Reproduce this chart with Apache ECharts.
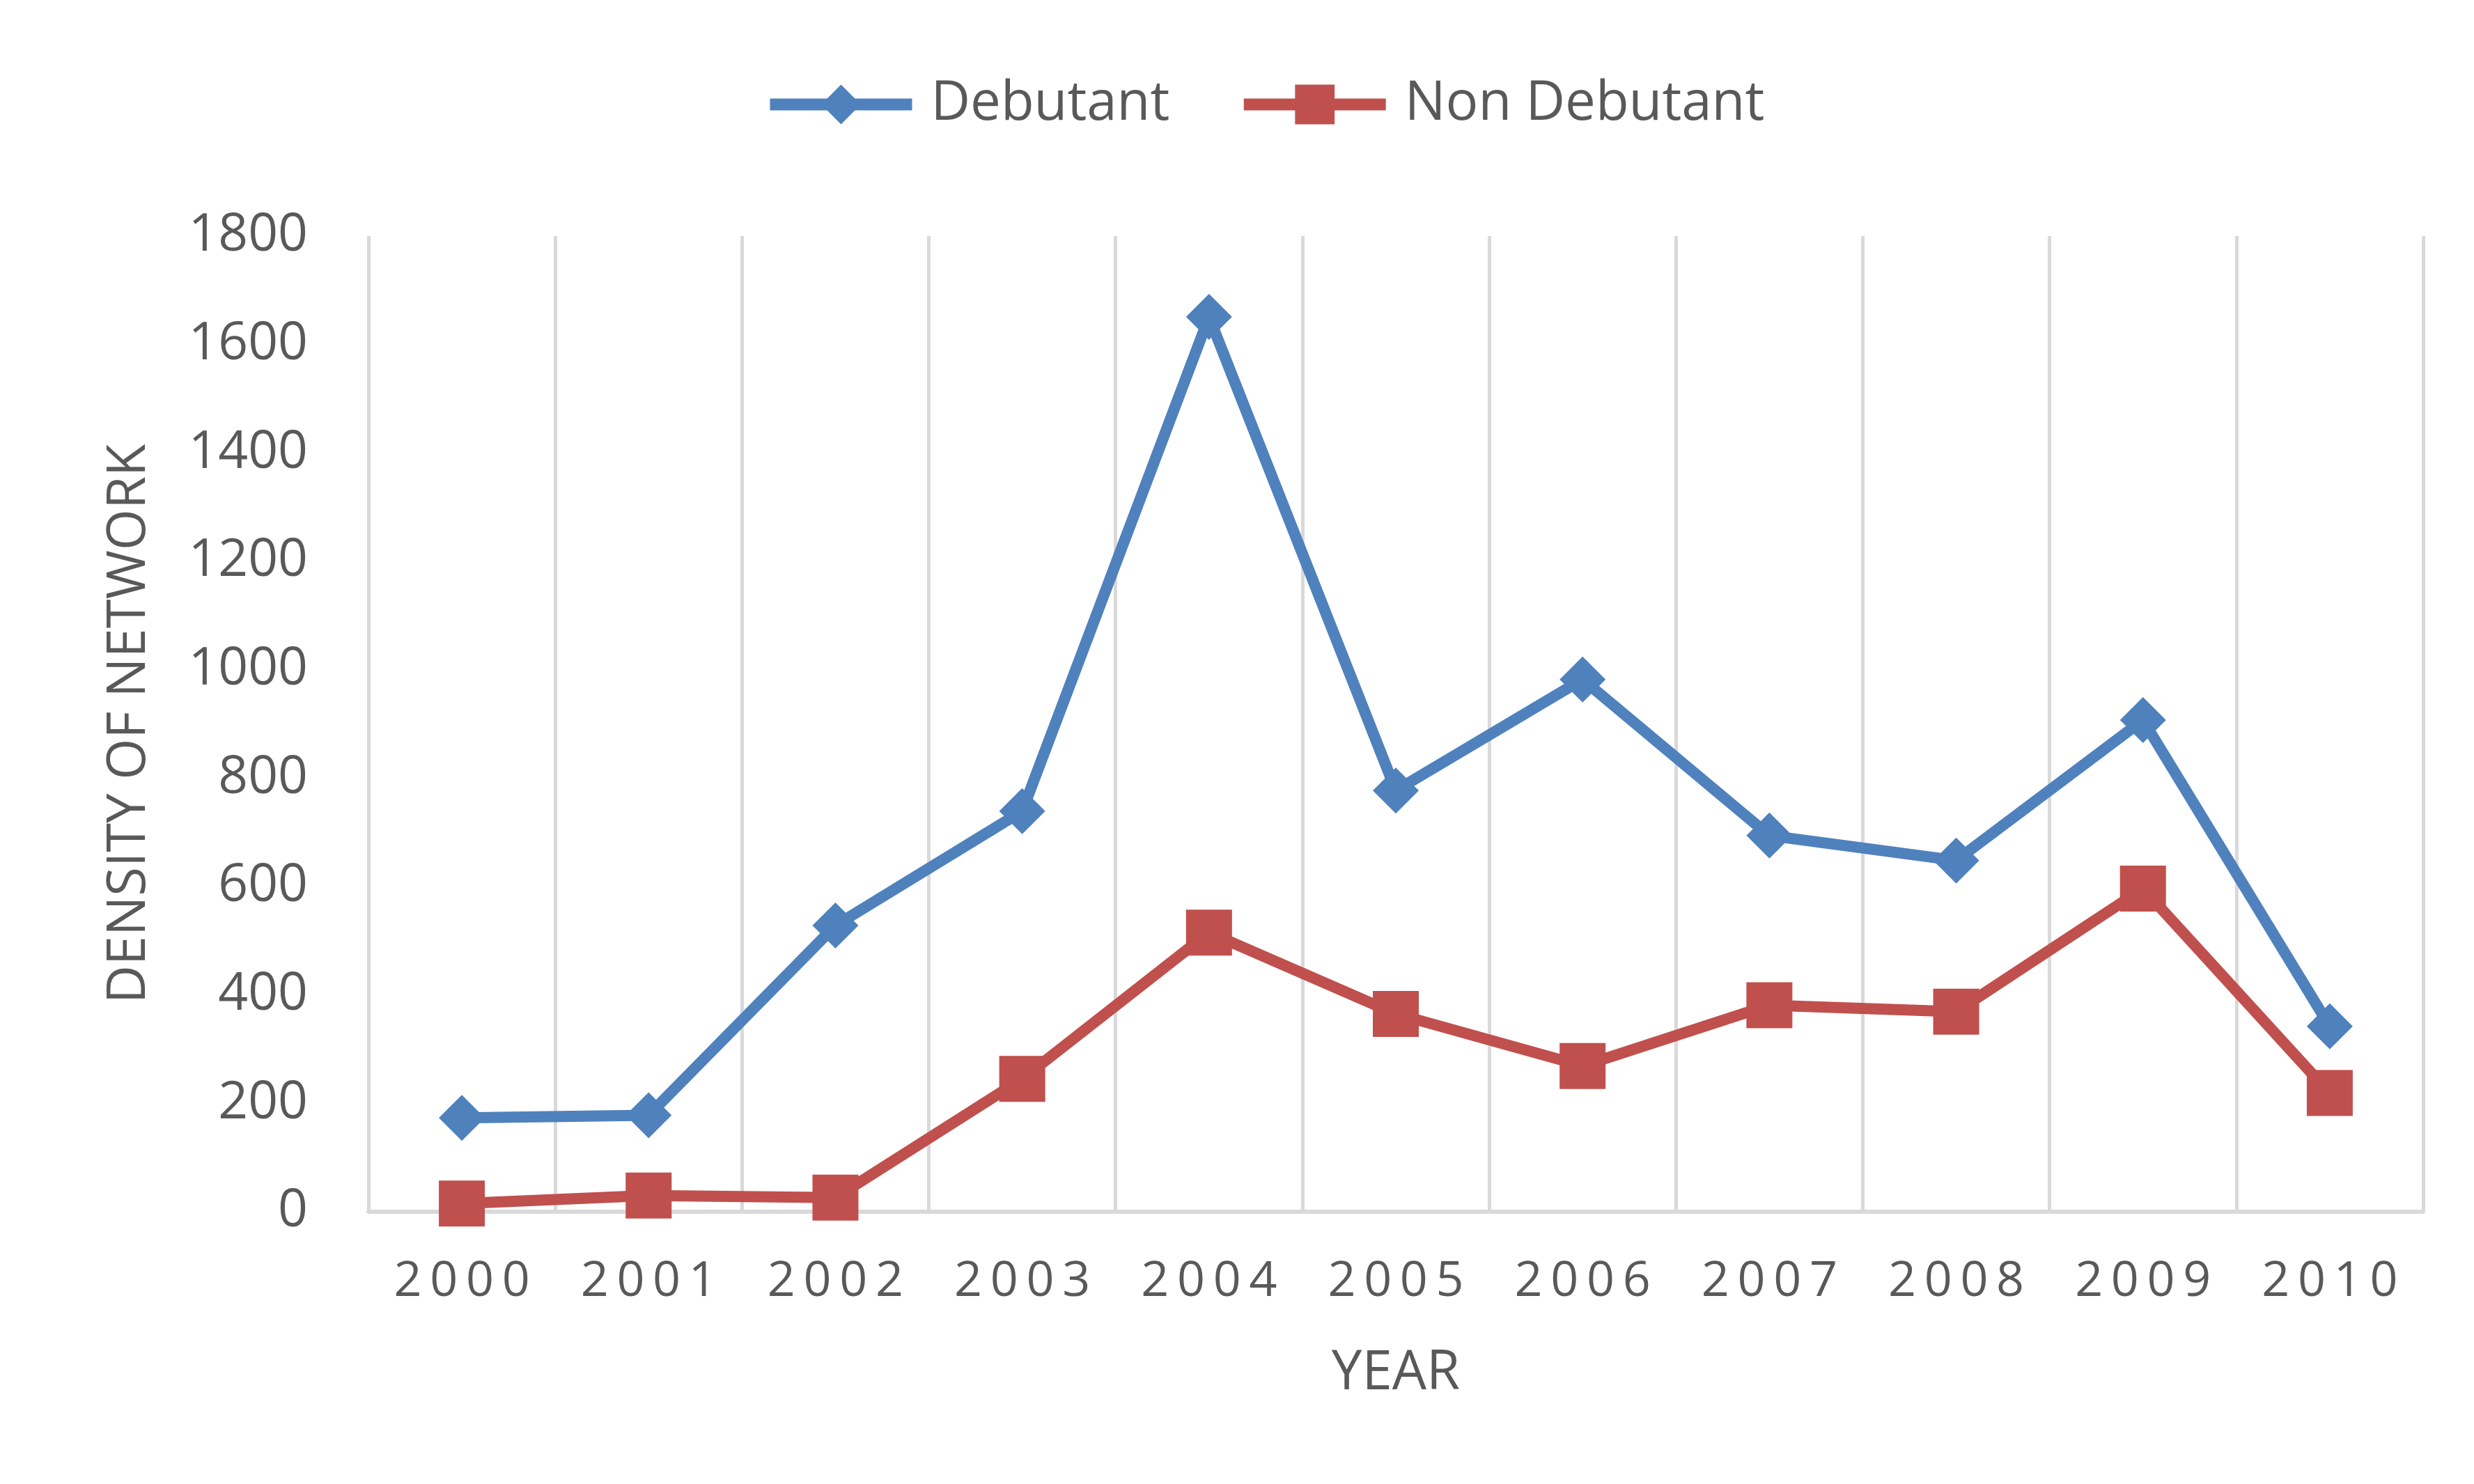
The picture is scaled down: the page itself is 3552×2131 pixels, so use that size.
<!DOCTYPE html>
<html>
	<head>
		<title>Density of network</title>
		<meta charset="utf-8"/>
		<style type="text/css">
			*{margin: 0;padding: 0;}
			html,body{
				width: 100%;
				height: 100%;
				background-color: #fff;
			}
			.chart{
				width: 100%;
				height: 100%;
			}
		</style>
		<script type="text/javascript" src="https://cdn.jsdelivr.net/npm/echarts@6/dist/echarts.min.js"></script>
	</head>
	<body>
		<div class="chart js-chart"></div>
		<script type="text/javascript">
			// 数据
			var years=["2000","2001","2002","2003","2004","2005","2006","2007","2008","2009","2010"];
			var debutant=[173,178,528,739,1651,777,982,694,648,907,342];
			var nonDebutant=[15,30,26,245,515,365,269,381,369,596,219];
			var yTicks={min:0,max:1800,interval:200};

			var textColor="#595959",gridColor="#D9D9D9",font="'Open Sans', 'Noto Sans', sans-serif";
			var chart=echarts.init(document.querySelector('.js-chart'));
			var option={
				animation:false,
				backgroundColor:"#fff",
				legend:{
					left:1092,
					top:106,
					itemWidth:204,
					itemHeight:71,
					itemGap:98,
					lineStyle:{width:17},
					textStyle:{
						color:textColor,
						fontSize:78,
						fontFamily:font,
						padding:[0,0,0,22]
					},
					data:["Debutant","Non Debutant"]
				},
				grid:{
					left:529,
					right:73,
					top:339,
					bottom:391
				},
				xAxis:{
					type:"category",
					data:years,
					boundaryGap:true,
					name:"YEAR",
					nameLocation:"middle",
					nameGap:194,
					nameTextStyle:{
						color:textColor,
						fontSize:78,
						fontFamily:font
					},
					axisLine:{
						lineStyle:{color:gridColor,width:6}
					},
					axisTick:{show:false},
					axisLabel:{
						color:textColor,
						fontSize:70,
						fontFamily:font,
						margin:66,
						formatter:function(v){
							return v.split("").join("\u2006");
						}
					},
					splitLine:{
						show:true,
						lineStyle:{color:gridColor,width:5}
					}
				},
				yAxis:{
					type:"value",
					min:yTicks.min,
					max:yTicks.max,
					interval:yTicks.interval,
					name:"DENSITY OF NETWORK",
					nameLocation:"middle",
					nameGap:305,
					nameTextStyle:{
						color:textColor,
						fontSize:76,
						fontFamily:font
					},
					axisLine:{show:false},
					axisTick:{show:false},
					splitLine:{show:false},
					axisLabel:{
						color:textColor,
						fontSize:75,
						fontFamily:font,
						margin:87,
						formatter:function(v){
							return String(v);
						}
					}
				},
				series:[
					{
						name:"Debutant",
						type:"line",
						data:debutant,
						symbol:"diamond",
						symbolSize:66,
						showAllSymbol:true,
						lineStyle:{color:"#4F81BD",width:16},
						itemStyle:{color:"#4F81BD"}
					},
					{
						name:"Non Debutant",
						type:"line",
						data:nonDebutant,
						symbol:"rect",
						symbolSize:66,
						showAllSymbol:true,
						lineStyle:{color:"#C0504D",width:16},
						itemStyle:{color:"#C0504D"}
					}
				]
			};
			chart.setOption(option);
		</script>
	</body>
</html>
